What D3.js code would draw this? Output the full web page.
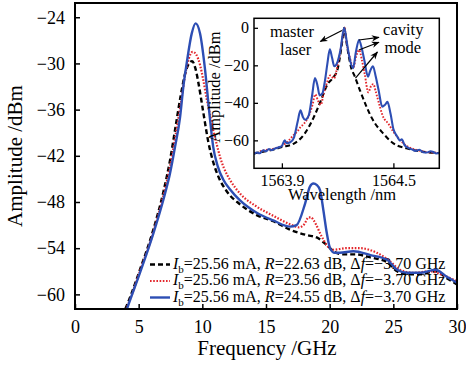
<!DOCTYPE html>
<html>
<head>
<meta charset="utf-8">
<script src="https://cdn.jsdelivr.net/npm/d3@7"></script>
<style>
body { margin: 0; background: #fff; }
svg { display: block; font-family: "Liberation Serif", "Times New Roman", serif; }
</style>
</head>
<body>
<svg id="chart" width="466" height="365"></svg>
<script>
// main spectra: [frequency GHz, amplitude dBm]
var blackMain = [[3.7,-62.8],[4.0,-61.7],[5.1,-56.8],[6.15,-51.6],[6.94,-46.7],[7.46,-42.6],[7.9,-38.2],[8.3,-34.2],[8.7,-31.0],[9.0,-29.9],[9.2,-29.7],[9.45,-30.6],[9.7,-32.6],[10.08,-36.4],[10.47,-40.2],[10.87,-42.9],[11.26,-44.7],[11.91,-46.6],[12.96,-48.3],[14.27,-49.7],[15.58,-50.5],[16.89,-51.6],[18.2,-52.3],[18.98,-52.6],[19.77,-53.6],[20.4,-54.5],[21.0,-54.8],[22.0,-54.8],[23.2,-55.2],[24.5,-55.8],[25.3,-57.0],[26.1,-57.4],[27.1,-57.4],[28.3,-57.0],[29.2,-57.9],[30,-58.7]];
var redMain = [[3.8,-62.7],[4.05,-61.8],[5.1,-57.0],[6.15,-51.9],[6.94,-47.2],[7.46,-43.4],[7.9,-39.3],[8.3,-35.3],[8.64,-31.6],[8.95,-29.3],[9.24,-28.5],[9.5,-28.8],[9.82,-30.2],[10.08,-32.2],[10.34,-34.6],[10.6,-36.6],[10.87,-38.8],[11.13,-40.5],[11.4,-42.2],[11.7,-43.6],[12.2,-45.2],[12.96,-46.9],[14.27,-48.6],[15.58,-49.8],[16.89,-50.9],[17.6,-51.3],[18.0,-50.9],[18.35,-50.0],[18.55,-50.0],[18.75,-50.4],[19.38,-52.5],[19.77,-53.6],[20.3,-54.2],[21.3,-54.0],[22.4,-54.0],[23.7,-54.6],[24.75,-55.7],[25.5,-56.8],[26.6,-57.2],[27.9,-57.0],[28.9,-57.5],[30,-58.3]];
var blueMain = [[3.9,-62.8],[4.06,-62.0],[5.1,-57.2],[6.15,-52.1],[6.94,-47.7],[7.46,-44.3],[7.86,-40.8],[8.25,-37.0],[8.51,-33.0],[8.77,-30.0],[9.17,-26.1],[9.47,-24.8],[9.82,-26.1],[10.2,-30.6],[10.55,-36.4],[10.85,-40.8],[11.2,-43.3],[11.65,-45.1],[12.2,-46.4],[12.96,-47.8],[14.27,-49.4],[15.58,-50.4],[16.89,-51.2],[17.4,-51.0],[18.07,-48.2],[18.45,-46.0],[18.72,-45.6],[19.0,-45.8],[19.25,-46.5],[19.5,-49.0],[19.77,-52.0],[20.03,-54.0],[20.4,-54.6],[20.8,-54.6],[21.86,-54.4],[23.2,-54.9],[24.5,-55.5],[25.3,-56.8],[26.1,-57.2],[27.1,-57.2],[28.3,-56.8],[29.2,-57.7],[30,-58.5]];

// inset optical spectra: [wavelength nm, amplitude dBm]
var blackInset = [[1563.75,-67.0],[1563.8,-66.0],[1563.85,-65.0],[1563.9,-63.6],[1563.965,-61.7],[1564.02,-56.8],[1564.07,-48.0],[1564.108,-39.2],[1564.144,-30.4],[1564.18,-26.0],[1564.2,-22.0],[1564.215,-14.0],[1564.228,-5.0],[1564.236,0],[1564.245,-6.0],[1564.258,-14.0],[1564.272,-21.0],[1564.29,-25.4],[1564.32,-33.3],[1564.356,-42.2],[1564.39,-49.2],[1564.445,-56.3],[1564.5,-61.6],[1564.57,-64.2],[1564.64,-65.8],[1564.747,-66.8]];
var redInset = [[1563.75,-66.5],[1563.765,-66.9],[1563.78,-66.0],[1563.81,-65.2],[1563.84,-64.8],[1563.87,-64.0],[1563.9,-63.0],[1563.93,-60.7],[1563.96,-57.5],[1563.985,-55.0],[1564.0,-53.0],[1564.02,-51.0],[1564.05,-45.7],[1564.065,-41.0],[1564.08,-35.5],[1564.095,-39.0],[1564.11,-41.0],[1564.125,-35.0],[1564.14,-30.0],[1564.16,-25.4],[1564.18,-27.0],[1564.2,-20.0],[1564.212,-14.0],[1564.225,-6.0],[1564.236,0],[1564.25,-9.0],[1564.266,-16.0],[1564.284,-21.2],[1564.3,-15.0],[1564.316,-11.8],[1564.33,-17.0],[1564.346,-24.8],[1564.365,-34.4],[1564.38,-31.0],[1564.392,-30.0],[1564.405,-34.0],[1564.418,-38.7],[1564.445,-47.5],[1564.472,-51.0],[1564.5,-55.4],[1564.52,-58.0],[1564.544,-60.7],[1564.575,-63.2],[1564.606,-64.5],[1564.64,-65.5],[1564.68,-66.3],[1564.72,-66.5],[1564.747,-66.8]];
var blueInset = [[1563.75,-67.4],[1563.765,-66.5],[1563.78,-66.9],[1563.8,-65.3],[1563.815,-65.8],[1563.83,-64.6],[1563.845,-65.2],[1563.86,-64.5],[1563.88,-63.8],[1563.9,-63.0],[1563.915,-60.0],[1563.925,-61.5],[1563.945,-61.0],[1563.965,-58.5],[1563.985,-50.0],[1564.0,-44.0],[1564.013,-47.5],[1564.025,-49.0],[1564.045,-46.5],[1564.062,-36.5],[1564.078,-26.8],[1564.092,-31.0],[1564.103,-36.0],[1564.118,-35.0],[1564.132,-28.0],[1564.145,-19.0],[1564.158,-11.5],[1564.17,-16.0],[1564.182,-20.5],[1564.2,-18.0],[1564.215,-12.0],[1564.235,0],[1564.25,-8.0],[1564.262,-15.0],[1564.283,-21.5],[1564.298,-13.0],[1564.315,-6.5],[1564.33,-11.0],[1564.345,-18.0],[1564.363,-26.0],[1564.375,-23.0],[1564.39,-20.5],[1564.405,-26.0],[1564.42,-33.0],[1564.44,-42.0],[1564.455,-41.0],[1564.468,-39.5],[1564.485,-46.0],[1564.5,-54.0],[1564.518,-57.5],[1564.535,-60.0],[1564.545,-59.5],[1564.56,-62.5],[1564.58,-64.0],[1564.6,-64.8],[1564.62,-65.6],[1564.64,-65.0],[1564.66,-66.3],[1564.68,-66.5],[1564.7,-65.8],[1564.715,-66.2],[1564.73,-67.0],[1564.747,-66.6]];

var freqTicks = [0, 5, 10, 15, 20, 25, 30];
var ampTicks = [-60, -54, -48, -42, -36, -30, -24];
var waveTicks = [1563.9, 1564.5];
var insetAmpTicks = [-60, -40, -20, 0];

var legendLabels = [
	{I: "25.56", R: "22.63", df: "3.70"},
	{I: "25.56", R: "23.56", df: "3.70"},
	{I: "25.56", R: "24.55", df: "3.70"}
];

var BLUE = "#2d4eb4";
var RED = "#e3262b";

var series = [
	{main: blackMain, inset: blackInset, color: "#000", width: 2.4, dash: "5,3"},
	{main: redMain, inset: redInset, color: RED, width: 2.2, dash: "1.6,1.6"},
	{main: blueMain, inset: blueInset, color: BLUE, width: 2.4, dash: null}
];

var svg = d3.select("#chart");

// main plot area
var m = {left: 75, top: 3, right: 457, bottom: 309};
var x = d3.scaleLinear().domain([0, 30]).range([m.left, m.right]);
var y = d3.scaleLinear().domain([-61.9, -22.15]).range([m.bottom, m.top]);

svg.append("clipPath").attr("id", "mainClip")
	.append("rect").attr("x", m.left).attr("y", m.top)
	.attr("width", m.right - m.left).attr("height", m.bottom - m.top);

var xAxis = svg.append("g")
	.attr("transform", "translate(0," + m.bottom + ")")
	.call(d3.axisBottom(x).tickValues(freqTicks).tickSizeInner(-5).tickSizeOuter(0).tickPadding(11));
var yAxis = svg.append("g")
	.attr("transform", "translate(" + m.left + ",0)")
	.call(d3.axisLeft(y).tickValues(ampTicks).tickSizeInner(-5).tickSizeOuter(0).tickPadding(10));
[xAxis, yAxis].forEach(function(a) {
	a.select(".domain").remove();
	a.selectAll("line").attr("stroke", "#000").attr("stroke-width", 1.5);
	a.selectAll("text").attr("font-size", 18).attr("fill", "#000")
		.attr("font-family", "Liberation Serif");
});

svg.append("text")
	.attr("x", 267).attr("y", 355)
	.attr("text-anchor", "middle").attr("font-size", 21)
	.text("Frequency /GHz");
svg.append("text")
	.attr("transform", "translate(22,156) rotate(-90)")
	.attr("text-anchor", "middle").attr("font-size", 21)
	.text("Amplitude /dBm");

// legend
var legend = svg.append("g");
legendLabels.forEach(function(d, i) {
	var s = series[i];
	var base = 268.5 + i * 16.5;
	legend.append("line")
		.attr("x1", 150).attr("x2", 170)
		.attr("y1", base - 4).attr("y2", base - 4)
		.attr("stroke", s.color).attr("stroke-width", s.width)
		.attr("stroke-dasharray", s.dash);
	var t = legend.append("text").attr("x", 173).attr("y", base).attr("font-size", 16);
	t.append("tspan").attr("font-style", "italic").text("I");
	t.append("tspan").attr("font-size", 11).attr("dy", 4).text("b");
	t.append("tspan").attr("dy", -4).text("=" + d.I + " mA, ");
	t.append("tspan").attr("font-style", "italic").text("R");
	t.append("tspan").text("=" + d.R + " dB, Δ");
	t.append("tspan").attr("font-style", "italic").text("f");
	t.append("tspan").text("=\u2212" + d.df + " GHz");
});

// curves
var line = d3.line()
	.x(function(d) { return x(d[0]); })
	.y(function(d) { return y(d[1]); })
	.curve(d3.curveMonotoneX);
var curves = svg.append("g").attr("clip-path", "url(#mainClip)");
series.forEach(function(s) {
	curves.append("path")
		.datum(s.main)
		.attr("d", line)
		.attr("fill", "none")
		.attr("stroke", s.color)
		.attr("stroke-width", s.width)
		.attr("stroke-dasharray", s.dash);
});

svg.append("rect")
	.attr("x", m.left).attr("y", m.top)
	.attr("width", m.right - m.left).attr("height", m.bottom - m.top)
	.attr("fill", "none").attr("stroke", "#000").attr("stroke-width", 2);

// inset
var n = {left: 254, top: 18.3, right: 439.3, bottom: 168.3};
var xi = d3.scaleLinear().domain([1563.75, 1564.747]).range([n.left, n.right]);
var yi = d3.scaleLinear().domain([-74.9, 5.07]).range([n.bottom, n.top]);

svg.append("clipPath").attr("id", "insetClip")
	.append("rect").attr("x", n.left).attr("y", n.top)
	.attr("width", n.right - n.left).attr("height", n.bottom - n.top);

var xiAxis = svg.append("g")
	.attr("transform", "translate(0," + n.bottom + ")")
	.call(d3.axisBottom(xi).tickValues(waveTicks).tickFormat(d3.format(".1f"))
		.tickSizeInner(-5).tickSizeOuter(0).tickPadding(6));
var yiAxis = svg.append("g")
	.attr("transform", "translate(" + n.left + ",0)")
	.call(d3.axisLeft(yi).tickValues(insetAmpTicks).tickSizeInner(-4).tickSizeOuter(0).tickPadding(5));
[xiAxis, yiAxis].forEach(function(a) {
	a.select(".domain").remove();
	a.selectAll("line").attr("stroke", "#000").attr("stroke-width", 1.3);
	a.selectAll("text").attr("font-size", 16).attr("fill", "#000")
		.attr("font-family", "Liberation Serif");
});

svg.append("text")
	.attr("x", 342).attr("y", 200)
	.attr("text-anchor", "middle").attr("font-size", 16.5)
	.text("Wavelength /nm");
svg.append("text")
	.attr("transform", "translate(220,87) rotate(-90)")
	.attr("text-anchor", "middle").attr("font-size", 16.5)
	.text("Amplitude /dBm");

var iline = d3.line()
	.x(function(d) { return xi(d[0]); })
	.y(function(d) { return yi(d[1]); })
	.curve(d3.curveMonotoneX);
var icurves = svg.append("g").attr("clip-path", "url(#insetClip)");
series.forEach(function(s) {
	icurves.append("path")
		.datum(s.inset)
		.attr("d", iline)
		.attr("fill", "none")
		.attr("stroke", s.color)
		.attr("stroke-width", s.width - 0.3)
		.attr("stroke-dasharray", s.dash);
});

svg.append("rect")
	.attr("x", n.left).attr("y", n.top)
	.attr("width", n.right - n.left).attr("height", n.bottom - n.top)
	.attr("fill", "none").attr("stroke", "#000").attr("stroke-width", 1.5);

// annotations in inset data units
var notes = [
	{text: "master", at: [1563.954, -5.0]},
	{text: "laser", at: [1563.974, -14.6]},
	{text: "cavity", at: [1564.553, -3.7]},
	{text: "mode", at: [1564.551, -13.5]}
];
var arrows = [
	{from: [1564.223, -1.4], to: [1564.107, -7.3]},
	{from: [1564.314, -6.5], to: [1564.422, -5.1]},
	{from: [1564.314, -11.8], to: [1564.422, -7.7]},
	{from: [1564.296, -26.8], to: [1564.414, -12.9]}
];

svg.append("defs").append("marker")
	.attr("id", "head").attr("viewBox", "0 -5 10 10")
	.attr("refX", 9).attr("refY", 0)
	.attr("markerWidth", 8).attr("markerHeight", 8)
	.attr("markerUnits", "userSpaceOnUse")
	.attr("orient", "auto")
	.append("path").attr("d", "M0,-4L10,0L0,4L3,0Z").attr("fill", "#000");

svg.append("g").selectAll("line").data(arrows).join("line")
	.attr("x1", function(d) { return xi(d.from[0]); })
	.attr("y1", function(d) { return yi(d.from[1]); })
	.attr("x2", function(d) { return xi(d.to[0]); })
	.attr("y2", function(d) { return yi(d.to[1]); })
	.attr("stroke", "#000").attr("stroke-width", 1.2)
	.attr("marker-end", "url(#head)");

svg.append("g").selectAll("text").data(notes).join("text")
	.attr("x", function(d) { return xi(d.at[0]); })
	.attr("y", function(d) { return yi(d.at[1]); })
	.attr("text-anchor", "middle").attr("font-size", 16.5)
	.text(function(d) { return d.text; });
</script>
</body>
</html>
